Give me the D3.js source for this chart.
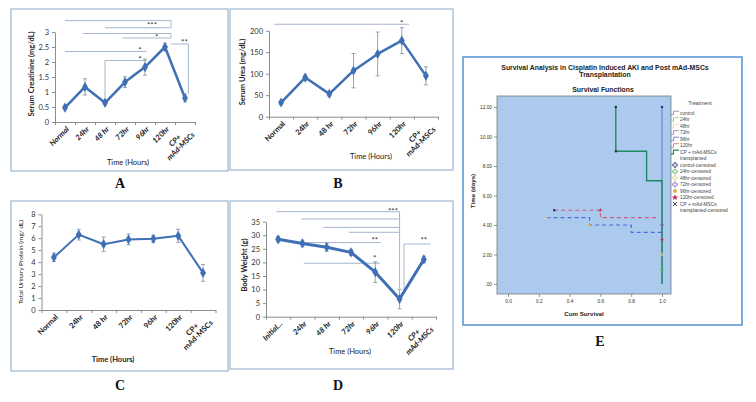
<!DOCTYPE html>
<html>
<head>
<meta charset="utf-8">
<script src="https://cdn.jsdelivr.net/npm/d3@7"></script>
<style>
  body { margin: 0; background: #fff; }
  svg { display: block; }
</style>
</head>
<body>
<svg id="fig" width="756" height="402"></svg>
<script>

// ---- data ----
var catsA = ["Normal", "24hr", "48 hr", "72hr", "96hr", "120hr", "CP+|mAd-MSCs"];
var catsD = ["Initial...", "24hr", "48 hr", "72hr", "96hr", "120hr", "CP+|mAd-MSCs"];

var creatinine   = [0.48, 1.17, 0.64, 1.33, 1.83, 2.5, 0.8];
var creatinineSE = [0.07, 0.27, 0.06, 0.18, 0.27, 0.13, 0.13];
var urea         = [33, 91, 53, 107, 146, 177, 95];
var ureaSE       = [5, 6, 5, 40, 51, 30, 21];
var protein      = [4.4, 6.3, 5.5, 5.9, 5.95, 6.2, 3.1];
var proteinSE    = [0.35, 0.45, 0.6, 0.45, 0.3, 0.55, 0.7];
var weight       = [28.5, 27.0, 25.6, 23.7, 16.4, 6.5, 21.1];
var weightSE     = [1.0, 1.2, 1.5, 1.1, 3.8, 3.6, 1.2];

var ticksA = [0, 0.5, 1, 1.5, 2, 2.5, 3];
var ticksB = [0, 50, 100, 150, 200];
var ticksC = [0, 1, 2, 3, 4, 5, 6, 7, 8];
var ticksD = [0, 5, 10, 15, 20, 25, 30, 35];

// significance brackets: [cat1, value1, cat2, value2] (category index, data value)
var sigA = [[0, 3.38, 5.3, 3.38], [5.3, 3.38, 5.3, 3.14], [2, 3.14, 5.3, 3.14],
            [0.9, 2.95, 5.3, 2.95], [5.3, 2.95, 5.3, 2.8], [2.88, 2.8, 5.3, 2.8],
            [0, 2.35, 4.08, 2.35],
            [2, 2.05, 4.08, 2.05], [2, 2.05, 2, 0.75],
            [5.3, 2.6, 6.17, 2.6], [6.17, 2.6, 6.17, 0.94]];
var starsA = [[4.35, 3.27, "***"], [4.58, 2.88, "*"], [3.75, 2.46, "*"], [3.75, 2.15, "*"], [5.97, 2.73, "**"]];
var sigB = [[-0.3, 215, 5.3, 215]];
var starsB = [[5.0, 222, "*"]];
var sigD = [[-0.07, 38.7, 5.0, 38.7], [0.96, 36.0, 5.0, 36.0], [1.85, 32.9, 5.0, 32.9],
            [2.91, 31.1, 5.0, 31.1], [5.0, 38.7, 5.0, 10.5],
            [1.0, 27.3, 4.23, 27.3],
            [1.06, 19.7, 4.19, 19.7],
            [5.18, 26.8, 6.28, 26.8], [5.18, 26.8, 5.18, 9.5]];
var starsD = [[4.73, 39.6, "***"], [3.98, 28.9, "**"], [3.98, 22.1, "*"], [6.0, 28.9, "**"]];

// survival plot (x = cum survival, y = time in days)
var kmCP      = [[0.7, 12], [0.7, 9], [0.9, 9], [0.9, 7], [1.0, 7], [1.0, 0]];
var kmControl = [[1.0, 12], [1.0, 0]];
var km120     = [[0.3, 5], [0.6, 5], [0.6, 4.5], [0.98, 4.5]];
var km96      = [[0.25, 4.5], [0.53, 4.5], [0.53, 4], [0.8, 4], [0.8, 3.5], [1.0, 3.5]];
var censorPts = [["CP", 0.7, 12], ["CP", 0.7, 9], ["control", 1.0, 12], ["control", 0.3, 5],
                 ["120hr", 0.6, 5], ["96hr", 0.53, 4], ["48hr", 0.25, 4.5],
                 ["72hr", 1.0, 4], ["120hr", 1.0, 3], ["48hr", 1.0, 2], ["24hr", 1.0, 1]];
var groups = ["control", "24hr", "48hr", "72hr", "96hr", "120hr", "CP"];
var groupLabels = ["control", "24hr", "48hr", "72hr", "96hr", "120hr", "CP + mAd-MSCs|transplanted"];
var ticksEx = [0, 0.2, 0.4, 0.6, 0.8, 1.0];
var ticksEy = [0, 2, 4, 6, 8, 10, 12];

// ---- styles ----
var FONT = "Lato, 'Liberation Sans', Arial, sans-serif";
var SPSS = "'Liberation Sans', Arial, sans-serif";
var BLUE = "#3f6fb5";
var groupColor = { control: "#6c7fb0", "24hr": "#86c986", "48hr": "#e2d890", "72hr": "#9a6cc4",
                   "96hr": "#4a6fe0", "120hr": "#d05c80", CP: "#1e8a62" };
var censorColor = { control: "#27306a", "24hr": "#5fb55f", "48hr": "#d8d088", "72hr": "#8a5cc0",
                    "96hr": "#e0b040", "120hr": "#c02a58", CP: "#1b3b3b" };

var svg = d3.select("#fig");

function box(b, stroke) {
  svg.append("rect").attr("x", b[0]).attr("y", b[1]).attr("width", b[2]).attr("height", b[3])
    .attr("fill", "#fff").attr("stroke", stroke).attr("stroke-width", 1.4);
}

function letter(t, x, y) {
  svg.append("text").attr("x", x).attr("y", y).attr("text-anchor", "middle")
    .attr("font-family", "'Liberation Serif', 'DejaVu Serif', serif").attr("font-weight", "bold")
    .attr("font-size", 14).attr("fill", "#111").text(t);
}

function linePanel(p) {
  var g = svg.append("g");
  var x = d3.scaleLinear().domain([-0.5, p.cats.length - 0.5]).range(p.xr);
  var y = d3.scaleLinear().domain([0, p.ymax]).range(p.yr);

  // axes
  var ya = g.append("g").attr("transform", "translate(" + p.xr[0] + ",0)")
    .call(d3.axisLeft(y).tickValues(p.yticks).tickSize(3).tickSizeOuter(0).tickPadding(3)
      .tickFormat(d3.format("~g")));
  ya.select(".domain").attr("stroke", "#8c8c8c");
  ya.selectAll(".tick line").attr("stroke", "#8c8c8c");
  ya.selectAll(".tick text").attr("font-family", FONT).attr("font-size", 7.5).attr("fill", "#333");

  var bounds = d3.range(p.cats.length + 1).map(function(i) { return i - 0.5; });
  var xa = g.append("g").attr("transform", "translate(0," + p.yr[0] + ")")
    .call(d3.axisBottom(x).tickValues(bounds).tickSize(3).tickSizeOuter(0).tickFormat(""));
  xa.select(".domain").attr("stroke", "#8c8c8c");
  xa.selectAll(".tick line").attr("stroke", "#8c8c8c");

  // rotated category labels
  p.cats.forEach(function(c, i) {
    var t = g.append("text")
      .attr("transform", "translate(" + (x(i) + 3) + "," + (p.yr[0] + 6) + ") rotate(-45)")
      .attr("font-family", FONT).attr("font-size", 7.6).attr("font-weight", "bold")
      .attr("font-style", p.italic ? "italic" : "normal").attr("fill", "#222");
    var lines = c.split("|");
    if (lines.length == 1) {
      t.attr("text-anchor", "end").attr("dy", "0.3em").text(c);
    } else {
      t.attr("text-anchor", "middle");
      var spans = lines.map(function(l, k) {
        return t.append("tspan").attr("dy", k ? "1.05em" : "0.3em").text(l);
      });
      var w = d3.max(spans, function(s) { return s.node().getComputedTextLength(); });
      spans.forEach(function(s) { s.attr("x", -w / 2); });
    }
  });

  // significance brackets
  g.selectAll("line.sig").data(p.sig).join("line").attr("class", "sig")
    .attr("x1", function(d) { return x(d[0]); }).attr("y1", function(d) { return y(d[1]); })
    .attr("x2", function(d) { return x(d[2]); }).attr("y2", function(d) { return y(d[3]); })
    .attr("stroke", "#a6b6cb").attr("stroke-width", 1);
  g.selectAll("text.star").data(p.stars).join("text").attr("class", "star")
    .attr("x", function(d) { return x(d[0]); }).attr("y", function(d) { return y(d[1]) + 4.5; })
    .attr("text-anchor", "middle").attr("font-family", FONT).attr("font-size", 8)
    .attr("fill", "#333").text(function(d) { return d[2]; });

  // error bars
  var eb = g.selectAll("g.err").data(p.vals).join("g").attr("class", "err")
    .attr("stroke", "#7d8ea6").attr("stroke-width", 0.8);
  eb.append("line").attr("x1", function(d, i) { return x(i); }).attr("x2", function(d, i) { return x(i); })
    .attr("y1", function(d, i) { return y(d - p.errs[i]); }).attr("y2", function(d, i) { return y(d + p.errs[i]); });
  [-1, 1].forEach(function(s) {
    eb.append("line").attr("x1", function(d, i) { return x(i) - 2; }).attr("x2", function(d, i) { return x(i) + 2; })
      .attr("y1", function(d, i) { return y(d + s * p.errs[i]); }).attr("y2", function(d, i) { return y(d + s * p.errs[i]); });
  });

  // series
  var line = d3.line().x(function(d, i) { return x(i); }).y(function(d) { return y(d); });
  g.append("path").datum(p.vals).attr("d", line).attr("fill", "none")
    .attr("stroke", BLUE).attr("stroke-width", p.lw).attr("stroke-linejoin", "round");
  g.selectAll("path.mk").data(p.vals).join("path").attr("class", "mk")
    .attr("transform", function(d, i) { return "translate(" + x(i) + "," + y(d) + ")"; })
    .attr("d", d3.symbol(d3.symbolDiamond, 30)).attr("fill", BLUE);

  // titles
  g.append("text").attr("transform", "translate(" + p.ytPos[0] + "," + p.ytPos[1] + ") rotate(-90)")
    .attr("text-anchor", "middle").attr("dy", "0.35em").attr("font-family", FONT)
    .attr("font-size", p.ytFs).attr("font-weight", p.ytBold ? "bold" : "normal").attr("fill", "#222").text(p.ytitle);
  g.append("text").attr("x", p.xtPos[0]).attr("y", p.xtPos[1]).attr("dy", "0.35em")
    .attr("text-anchor", "middle").attr("font-family", FONT).attr("font-size", 7.5)
    .attr("font-weight", p.xtBold ? "bold" : "normal").attr("fill", "#222").text("Time (Hours)");
}

// ---- panels A-D ----
box([11, 9, 217, 162], "#a9bfd8");
box([230, 9, 223, 161], "#a9bfd8");
box([11, 201, 217, 170], "#a9bfd8");
box([230, 201, 223, 168], "#a9bfd8");

linePanel({ cats: catsA, vals: creatinine, errs: creatinineSE, ymax: 3, yticks: ticksA,
  xr: [55, 195], yr: [122, 32], sig: sigA, stars: starsA, italic: true, lw: 2.5,
  ytitle: "Serum Creatinine (mg/dL)", ytPos: [31, 74], ytFs: 7.5, ytBold: true, xtPos: [128, 162] });
linePanel({ cats: catsA, vals: urea, errs: ureaSE, ymax: 200, yticks: ticksB,
  xr: [269, 438], yr: [116.7, 30.7], sig: sigB, stars: starsB, italic: false, lw: 2.5,
  ytitle: "Serum Urea (mg/dL)", ytPos: [242, 72], ytFs: 7.5, ytBold: true, xtPos: [371, 156] });
linePanel({ cats: catsA, vals: protein, errs: proteinSE, ymax: 8, yticks: ticksC,
  xr: [41.5, 215.5], yr: [310, 214.3], sig: [], stars: [], italic: false, lw: 2,
  ytitle: "Total Urinary Protein (mg/ dL)", ytPos: [21, 262], ytFs: 6.5, ytBold: false,
  xtPos: [113, 359], xtBold: true });
linePanel({ cats: catsD, vals: weight, errs: weightSE, ymax: 35, yticks: ticksD,
  xr: [266, 436], yr: [316.7, 221.7], sig: sigD, stars: starsD, italic: true, lw: 3,
  ytitle: "Body Weight (g)", ytPos: [244, 265], ytFs: 7.5, ytBold: true, xtPos: [350, 351] });

letter("A", 120, 188);
letter("B", 338, 188);
letter("C", 120, 390);
letter("D", 338, 390);

// ---- panel E: survival functions ----
svg.append("rect").attr("x", 463).attr("y", 57).attr("width", 279).attr("height", 268)
  .attr("fill", "#fff").attr("stroke", "#5b98d4").attr("stroke-width", 1.6);
var eg = svg.append("g");
var xE = d3.scaleLinear().domain([0, 1]).range([508, 662]);
var yE = d3.scaleLinear().domain([0, 12]).range([284, 107]);
var plotL = 497, plotR = 671, plotT = 96, plotB = 294;

eg.append("rect").attr("x", plotL).attr("y", plotT).attr("width", plotR - plotL).attr("height", plotB - plotT)
  .attr("fill", "#abcaee").attr("stroke", "#6a6a6a").attr("stroke-width", 0.7);

var eya = eg.append("g").attr("transform", "translate(" + plotL + ",0)")
  .call(d3.axisLeft(yE).tickValues(ticksEy).tickSize(3).tickPadding(2)
    .tickFormat(function(d) { return d === 0 ? ".00" : d.toFixed(2); }));
var exa = eg.append("g").attr("transform", "translate(0," + plotB + ")")
  .call(d3.axisBottom(xE).tickValues(ticksEx).tickSize(3).tickPadding(3)
    .tickFormat(function(d) { return d.toFixed(1); }));
[eya, exa].forEach(function(a) {
  a.select(".domain").remove();
  a.selectAll(".tick line").attr("stroke", "#555").attr("stroke-width", 0.6);
  a.selectAll(".tick text").attr("font-family", SPSS).attr("font-size", 4.8).attr("fill", "#333");
});

var kmLine = d3.line().x(function(d) { return xE(d[0]); }).y(function(d) { return yE(d[1]); });
eg.append("path").datum(kmControl).attr("d", kmLine).attr("fill", "none")
  .attr("stroke", "#4a5a9a").attr("stroke-width", 0.7);
eg.append("path").datum(km120).attr("d", kmLine).attr("fill", "none")
  .attr("stroke", groupColor["120hr"]).attr("stroke-width", 1.2).attr("stroke-dasharray", "4,3");
eg.append("path").datum(km96).attr("d", kmLine).attr("fill", "none")
  .attr("stroke", groupColor["96hr"]).attr("stroke-width", 1.2).attr("stroke-dasharray", "4,3");
eg.append("path").datum(kmCP).attr("d", kmLine).attr("fill", "none")
  .attr("stroke", groupColor.CP).attr("stroke-width", 1.4);

function censorMark(sel, grp, size) {
  var c = censorColor[grp];
  if (grp == "96hr") {
    sel.append("circle").attr("r", size * 0.55).attr("fill", c);
  } else if (grp == "120hr") {
    sel.append("path").attr("d", d3.symbol(d3.symbolStar, size * size * 1.1)).attr("fill", c);
  } else if (grp == "CP") {
    sel.append("path").attr("d", d3.symbol(d3.symbolX, size * size)).attr("stroke", c).attr("stroke-width", 0.9);
  } else {
    sel.append("path").attr("d", d3.symbol(d3.symbolCross, size * size)).attr("fill", "none")
      .attr("stroke", c).attr("stroke-width", 0.7);
  }
}
censorPts.forEach(function(d) {
  var m = eg.append("g").attr("transform", "translate(" + xE(d[1]) + "," + yE(d[2]) + ")");
  if (d[0] == "CP" || d[0] == "control") {
    m.append("rect").attr("x", -1.1).attr("y", -1.1).attr("width", 2.2).attr("height", 2.2)
      .attr("fill", censorColor[d[0]]);
  } else {
    censorMark(m, d[0], 2.2);
  }
});

// titles
function etext(t, x, y, fs, bold, anchor) {
  return eg.append("text").attr("x", x).attr("y", y).attr("text-anchor", anchor || "middle")
    .attr("font-family", SPSS).attr("font-size", fs).attr("font-weight", bold ? "bold" : "normal")
    .attr("fill", "#222").text(t);
}
etext("Survival Analysis in Cisplatin Induced AKI and Post mAd-MSCs", 605, 69.5, 6.9, true);
etext("Transplantation", 605, 76.5, 6.9, true);
etext("Survival Functions", 603, 91.5, 6.9, true);
etext("Cum Survival", 584, 315.5, 6.2, true);
eg.append("text").attr("transform", "translate(475,191) rotate(-90)").attr("text-anchor", "middle")
  .attr("font-family", SPSS).attr("font-size", 6.2).attr("font-weight", "bold").attr("fill", "#222")
  .text("Time (days)");

// legend
etext("Treatment", 700, 105, 5.2, false).attr("fill", "#444");
var rowY = function(r) { return 113 + 6.5 * r; };
var row = 0;
groups.forEach(function(grp, i) {
  var y = rowY(row);
  eg.append("path").attr("d", "M671," + (y + 1.8) + "H673.5V" + (y - 1.8) + "H679")
    .attr("fill", "none").attr("stroke", groupColor[grp]).attr("stroke-width", grp == "CP" ? 1.2 : 0.8);
  groupLabels[i].split("|").forEach(function(l) {
    etext(l, 680, rowY(row) + 1.7, 4.8, false, "start").attr("fill", "#444");
    row++;
  });
});
groups.forEach(function(grp, i) {
  var y = rowY(row);
  censorMark(eg.append("g").attr("transform", "translate(675," + y + ")"), grp, 3.6);
  groupLabels[i].split("|").forEach(function(l, k, arr) {
    var txt = (k == arr.length - 1) ? l + "-censored" : l;
    etext(txt, 680, rowY(row) + 1.7, 4.8, false, "start").attr("fill", "#444");
    row++;
  });
});

letter("E", 600, 346);
</script>
</body>
</html>
